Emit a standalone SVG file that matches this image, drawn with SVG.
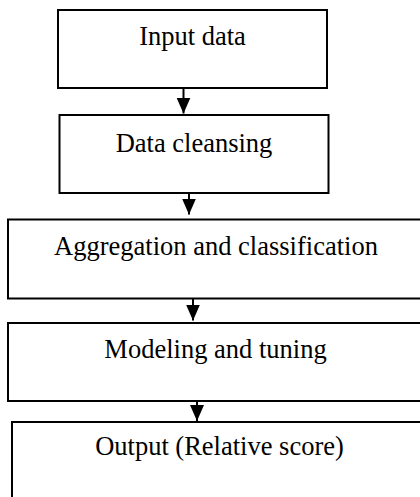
<svg xmlns="http://www.w3.org/2000/svg" width="420" height="497" viewBox="0 0 420 497">
<defs>
<style>
.box{fill:#fff;stroke:#000;stroke-width:2}
.lbl{font-family:"Liberation Serif","Times New Roman",serif;font-size:26.5px;fill:#000;text-anchor:middle}
.conn{stroke:#000;stroke-width:2;fill:none}
</style>
<marker id="ah" markerUnits="userSpaceOnUse" markerWidth="16" markerHeight="14" viewBox="0 0 16 14" refX="16" refY="7" orient="auto">
<path d="M0,0 L16,7 L0,14 z" fill="#000"/>
</marker>
</defs>
<rect width="420" height="497" fill="#fff"/>
<g id="n1"><rect class="box" x="58" y="10" width="269" height="78"/><text class="lbl" x="192.5" y="45">Input data</text></g>
<g id="n2"><rect class="box" x="59.5" y="115" width="269" height="78"/><text class="lbl" x="194" y="152">Data cleansing</text></g>
<g id="n3"><rect class="box" x="8" y="219.5" width="416" height="79"/><text class="lbl" x="216" y="255">Aggregation and classification</text></g>
<g id="n4"><rect class="box" x="8" y="323" width="415" height="78"/><text class="lbl" x="215.5" y="358">Modeling and tuning</text></g>
<g id="n5"><rect class="box" x="12" y="422" width="415" height="80"/><text class="lbl" x="219.5" y="455">Output (Relative score)</text></g>
<g id="connectors">
<path class="conn" d="M183.5,88 V113.5" marker-end="url(#ah)"/>
<path class="conn" d="M189,193 V214.5" marker-end="url(#ah)"/>
<path class="conn" d="M193,298.5 V320.5" marker-end="url(#ah)"/>
<path class="conn" d="M197,401 V421" marker-end="url(#ah)"/>
</g>
</svg>
